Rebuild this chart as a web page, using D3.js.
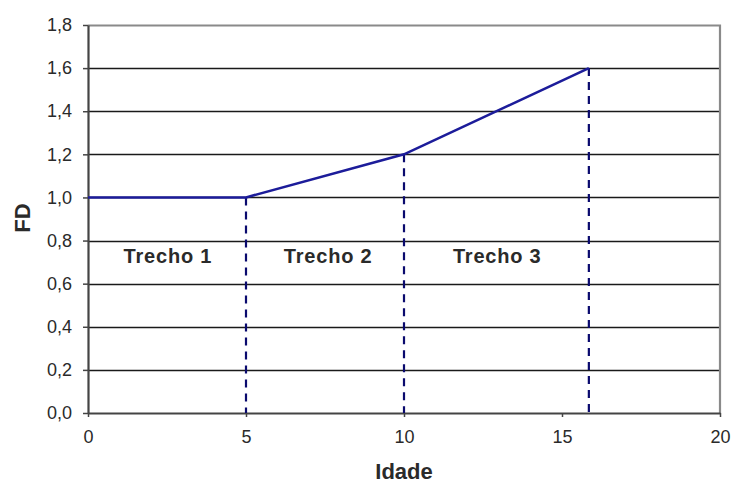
<!DOCTYPE html>
<html><head><meta charset="utf-8">
<script src="https://cdn.jsdelivr.net/npm/d3@7"></script>
<style>body{margin:0;background:#fff}svg{display:block}</style>
</head><body>
<script>
const idade = [0, 5, 10, 15.85];
const fd = [1.0, 1.0, 1.2, 1.6];
const dropX = [5, 10, 15.85];
const dropY = [1.0, 1.2, 1.6];
const trechoLabels = ["Trecho 1", "Trecho 2", "Trecho 3"];
const trechoX = [2.53, 7.6, 12.95];
const trechoY = [0.7, 0.7, 0.7];
const xTicks = [0, 5, 10, 15, 20];
const yTicks = [0, 0.2, 0.4, 0.6, 0.8, 1.0, 1.2, 1.4, 1.6, 1.8];

const W = 733, H = 484;
const m = {left: 88, right: 13, top: 25, bottom: 71};
const FONT = "Liberation Sans, Arial, sans-serif";
const svg = d3.select("body").append("svg").attr("width", W).attr("height", H);
const x = d3.scaleLinear().domain([0, 20]).range([m.left, W - m.right]);
const y = d3.scaleLinear().domain([0, 1.8]).range([H - m.bottom, m.top]);
const fmt = d => d3.format(".1f")(d).replace(".", ",");

// gridlines
svg.append("g").selectAll("line").data(yTicks.filter(d => d > 0 && d < 1.8)).join("line")
  .attr("x1", x(0)).attr("x2", x(20)).attr("y1", d => Math.round(y(d)) + 0.5).attr("y2", d => Math.round(y(d)) + 0.5)
  .attr("stroke", "#1a1a1a").attr("stroke-width", 1.4);

// plot border top/right (gray)
svg.append("path")
  .attr("d", `M${x(0)},${Math.round(y(1.8))+0.5}H${x(20)}V${y(0)}`)
  .attr("fill", "none").attr("stroke", "#8a8a8a").attr("stroke-width", 2.2);

// axes
const yAxis = d3.axisLeft(y).tickValues(yTicks).tickFormat(fmt).tickSizeOuter(0).tickSizeInner(5).tickPadding(11);
const gy = svg.append("g").attr("transform", `translate(${x(0)},0)`).call(yAxis);
const xAxis = d3.axisBottom(x).tickValues(xTicks).tickFormat(d3.format("d")).tickSizeOuter(0).tickSizeInner(4).tickPadding(13);
const gx = svg.append("g").attr("transform", `translate(0,${Math.round(y(0))})`).call(xAxis);
[gy, gx].forEach(g => {
  g.select(".domain").attr("stroke", "#444").attr("stroke-width", 2.2);
  g.selectAll(".tick line").attr("stroke", "#444").attr("stroke-width", 1.5);
  g.selectAll("text").attr("font-family", FONT).attr("font-size", 18).attr("fill", "#2a2a2a");
});

// dashed drop lines
svg.append("g").selectAll("line").data(dropX).join("line")
  .attr("x1", d => x(d)).attr("x2", d => x(d))
  .attr("y1", (d, i) => y(dropY[i])).attr("y2", y(0))
  .attr("stroke", "#0a0a6e").attr("stroke-width", 2.2).attr("stroke-dasharray", "8,6");

// main line
svg.append("path").datum(idade.map((d, i) => [d, fd[i]]))
  .attr("d", d3.line().x(d => x(d[0])).y(d => y(d[1])))
  .attr("fill", "none").attr("stroke", "#1c1c9a").attr("stroke-width", 2.6);

// trecho labels
svg.append("g").selectAll("text").data(trechoLabels).join("text")
  .attr("x", (d, i) => x(trechoX[i])).attr("y", (d, i) => y(trechoY[i]) + 1)
  .attr("text-anchor", "middle").attr("font-family", FONT).attr("letter-spacing", 0.8)
  .attr("font-size", 20).attr("font-weight", "bold").attr("fill", "#2a2a2a").text(d => d);

// axis titles
svg.append("text").attr("x", 404).attr("y", 479).attr("text-anchor", "middle")
  .attr("font-family", FONT).attr("font-size", 22).attr("font-weight", "bold").attr("fill", "#2a2a2a").text("Idade");
svg.append("text").attr("transform", `translate(30,218) rotate(-90)`).attr("text-anchor", "middle")
  .attr("font-family", FONT).attr("font-size", 22).attr("font-weight", "bold").attr("fill", "#2a2a2a").text("FD");
</script>
</body></html>
